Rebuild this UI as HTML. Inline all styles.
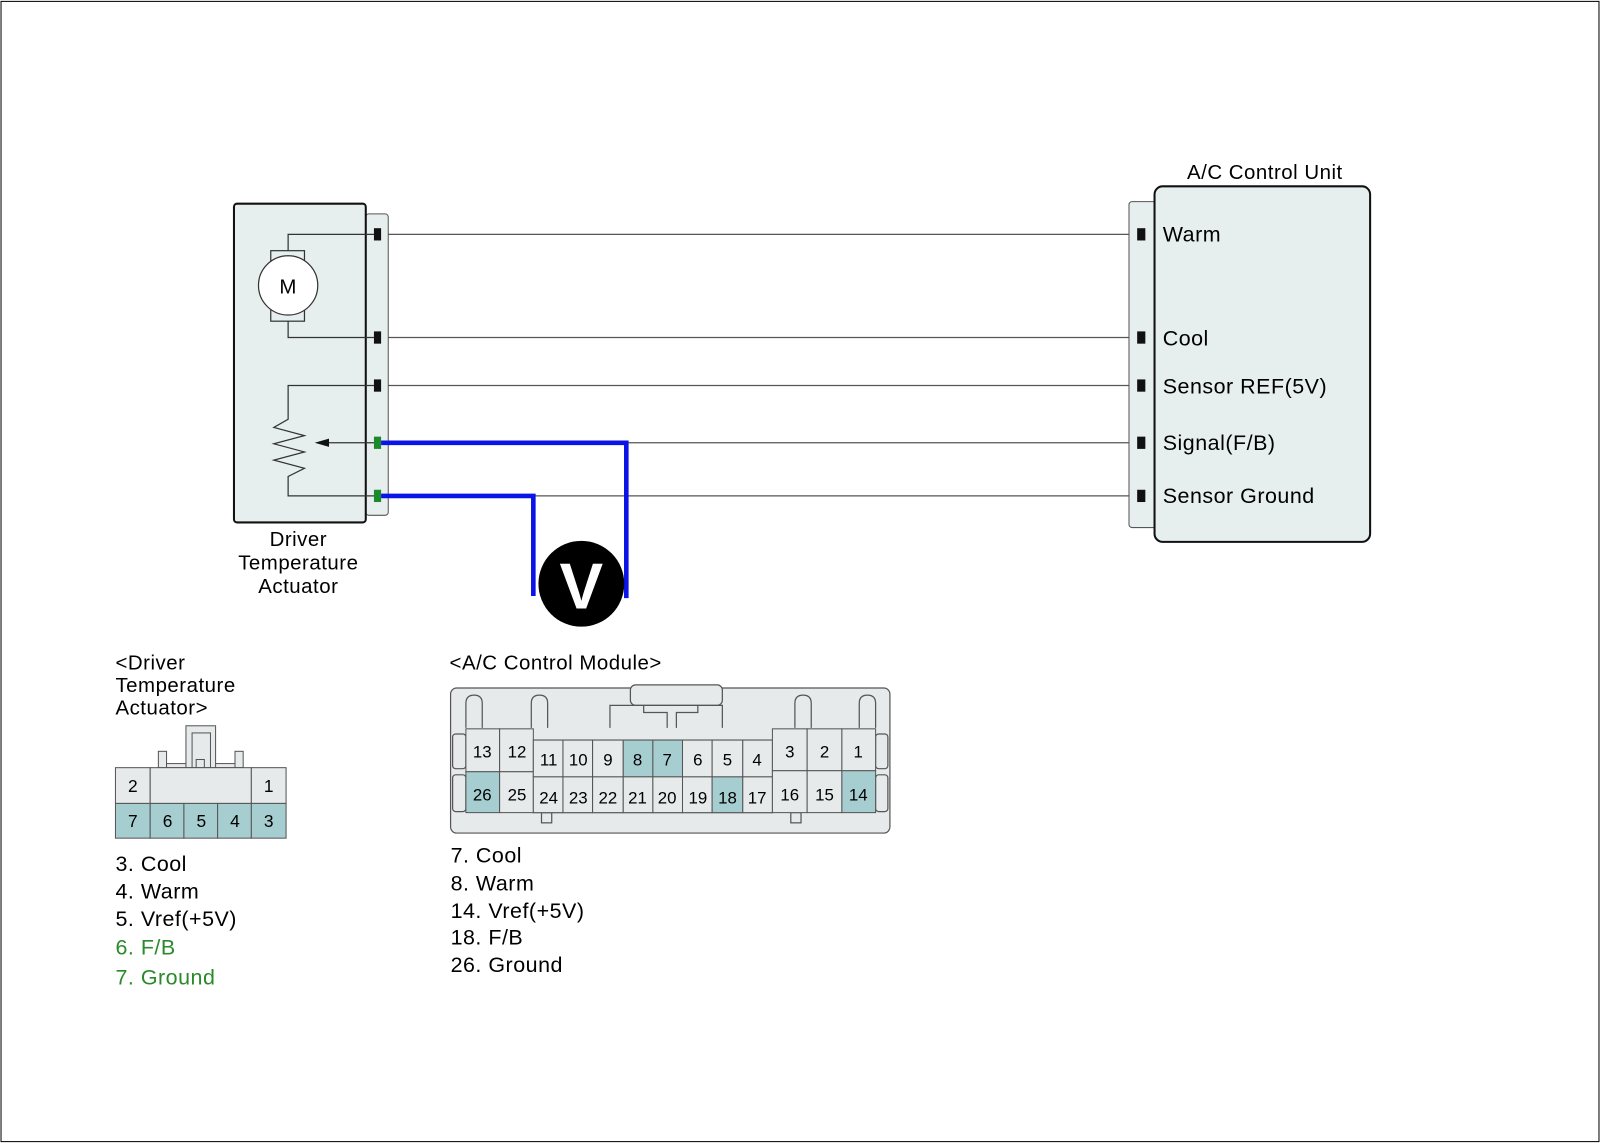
<!DOCTYPE html>
<html><head><style>html,body{margin:0;padding:0;background:#fff}svg{display:block}</style></head>
<body>
<svg width="1600" height="1143" viewBox="0 0 1566 1118" xmlns="http://www.w3.org/2000/svg" font-family="Liberation Sans, sans-serif" letter-spacing="0.5">
<rect x="1" y="1" width="1564" height="1116" fill="#fff" stroke="#000" stroke-width="1"/>
<g stroke="#555" stroke-width="1.2" fill="none">
<line x1="373" y1="229" x2="1113" y2="229"/>
<line x1="373" y1="330" x2="1113" y2="330"/>
<line x1="373" y1="377" x2="1113" y2="377"/>
<line x1="613" y1="433" x2="1113" y2="433"/>
<line x1="522" y1="485" x2="1113" y2="485"/>
</g>
<rect x="358" y="209" width="22" height="295" rx="3" fill="#e6eeee" stroke="#555" stroke-width="1"/>
<rect x="229" y="199" width="129" height="312" rx="3" fill="#e6eeee" stroke="#111" stroke-width="2"/>
<g stroke="#333" stroke-width="1.2" fill="none">
<polyline points="366,229 282,229 282,245"/>
<polyline points="366,330 282,330 282,314"/>
<rect x="265" y="245" width="33" height="69"/>
<polyline points="366,377 282,377 282,410 268,418 298,426 268,434 298,442 268,450 298,458 282,466 282,485 366,485"/>
<line x1="322" y1="433" x2="366" y2="433"/>
</g>
<circle cx="282" cy="279" r="29" fill="#fff" stroke="#333" stroke-width="1.2"/>
<text x="282" y="287" font-size="20" text-anchor="middle">M</text>
<polygon points="308,433 322,429 322,437" fill="#111"/>
<g fill="#111"><rect x="366" y="223" width="7" height="12"/><rect x="366" y="324" width="7" height="12"/><rect x="366" y="371" width="7" height="12"/></g>
<g fill="#1a8a2a"><rect x="366" y="427" width="7" height="12"/><rect x="366" y="479" width="7" height="12"/></g>
<text font-size="20" text-anchor="middle"><tspan x="292" y="534">Driver</tspan><tspan x="292" y="557">Temperature</tspan><tspan x="292" y="580">Actuator</tspan></text>
<g stroke="#0a14e6" stroke-width="4.5" fill="none">
<polyline points="373,433 613,433 613,585"/>
<polyline points="373,485 522,485 522,583"/>
</g>
<circle cx="569" cy="571" r="42" fill="#000"/>
<text x="569" y="595" font-size="64" font-weight="bold" fill="#fff" text-anchor="middle" letter-spacing="0">V</text>
<rect x="1105" y="197" width="28" height="319" rx="3" fill="#e6eeee" stroke="#555" stroke-width="1"/>
<rect x="1130" y="182" width="211" height="348" rx="8" fill="#e6eeee" stroke="#111" stroke-width="2"/>
<g fill="#111"><rect x="1113" y="223" width="8" height="12"/><rect x="1113" y="324" width="8" height="12"/><rect x="1113" y="371" width="8" height="12"/><rect x="1113" y="427" width="8" height="12"/><rect x="1113" y="479" width="8" height="12"/></g>
<text x="1238" y="175" font-size="20" text-anchor="middle">A/C Control Unit</text>
<g font-size="21"><text x="1138" y="236">Warm</text><text x="1138" y="338">Cool</text><text x="1138" y="385">Sensor REF(5V)</text><text x="1138" y="440">Signal(F/B)</text><text x="1138" y="492">Sensor Ground</text></g>
<g font-size="20"><text x="113" y="655">&lt;Driver</text><text x="113" y="677">Temperature</text><text x="113" y="699">Actuator&gt;</text></g>
<g stroke="#555" stroke-width="1" fill="#e6eaea">
<rect x="155" y="735" width="8" height="16"/><rect x="230" y="735" width="8" height="16"/>
<rect x="163" y="747" width="67" height="4"/>
<rect x="182" y="710" width="29" height="41"/><rect x="188" y="717" width="18" height="34"/><rect x="192" y="743" width="8" height="8"/>
<rect x="113" y="751" width="34" height="35"/><rect x="147" y="751" width="99" height="35"/><rect x="246" y="751" width="34" height="35"/>
</g>
<g stroke="#555" stroke-width="1" fill="#a6cdd0">
<rect x="113" y="786" width="34" height="34"/><rect x="147" y="786" width="33" height="34"/><rect x="180" y="786" width="33" height="34"/><rect x="213" y="786" width="33" height="34"/><rect x="246" y="786" width="34" height="34"/>
</g>
<g font-size="17" text-anchor="middle" letter-spacing="0"><text x="130" y="775">2</text><text x="263" y="775">1</text>
<text x="130" y="809">7</text><text x="164" y="809">6</text><text x="197" y="809">5</text><text x="230" y="809">4</text><text x="263" y="809">3</text></g>
<g font-size="21"><text x="113" y="852">3. Cool</text><text x="113" y="879">4. Warm</text><text x="113" y="906">5. Vref(+5V)</text><text x="113" y="934" fill="#2a8a2a">6. F/B</text><text x="113" y="963" fill="#2a8a2a">7. Ground</text></g>
<text x="440" y="655" font-size="20">&lt;A/C Control Module&gt;</text>
<g stroke="#555" stroke-width="1.2" fill="#e6eaea">
<rect x="441" y="673" width="430" height="142" rx="6"/>
<rect x="617" y="670" width="90" height="20" rx="5"/>
<path d="M597,712 V690 H707 V712"/>
<polyline points="630,690 630,697 653,697 653,712" fill="none"/><polyline points="683,690 683,697 662,697 662,712" fill="none"/>
<path d="M456,712 V688 q0,-8 8,-8 q8,0 8,8 V712" /><path d="M520,712 V688 q0,-8 8,-8 q8,0 8,8 V712"/>
<path d="M778,712 V688 q0,-8 8,-8 q8,0 8,8 V712"/><path d="M841,712 V688 q0,-8 8,-8 q8,0 8,8 V712"/>
<rect x="443" y="718" width="13" height="34" rx="3"/><rect x="443" y="758" width="13" height="36" rx="3"/>
<rect x="857" y="718" width="12" height="34" rx="3"/><rect x="857" y="758" width="12" height="36" rx="3"/>
<rect x="530" y="795" width="10" height="10"/><rect x="774" y="795" width="10" height="10"/>
<rect x="522" y="724" width="234" height="71" fill="#e6eaea"/>
</g>
<g stroke="#555" stroke-width="1" fill="#e6eaea">
<rect x="456" y="713" width="33" height="42"/><rect x="489" y="713" width="33" height="42"/>
<rect x="456" y="755" width="33" height="40" fill="#a6cdd0"/><rect x="489" y="755" width="33" height="40"/>
<rect x="522" y="724" width="29" height="36"/><rect x="551" y="724" width="29" height="36"/><rect x="580" y="724" width="30" height="36"/><rect x="610" y="724" width="29" height="36" fill="#a6cdd0"/><rect x="639" y="724" width="29" height="36" fill="#a6cdd0"/><rect x="668" y="724" width="29" height="36"/><rect x="697" y="724" width="30" height="36"/><rect x="727" y="724" width="29" height="36"/>
<rect x="522" y="760" width="29" height="35"/><rect x="551" y="760" width="29" height="35"/><rect x="580" y="760" width="30" height="35"/><rect x="610" y="760" width="29" height="35"/><rect x="639" y="760" width="29" height="35"/><rect x="668" y="760" width="29" height="35"/><rect x="697" y="760" width="30" height="35" fill="#a6cdd0"/><rect x="727" y="760" width="29" height="35"/>
<rect x="756" y="713" width="34" height="41"/><rect x="790" y="713" width="34" height="41"/><rect x="824" y="713" width="33" height="41"/>
<rect x="756" y="754" width="34" height="41"/><rect x="790" y="754" width="34" height="41"/><rect x="824" y="754" width="33" height="41" fill="#a6cdd0"/>
</g>
<g font-size="16.5" text-anchor="middle" letter-spacing="0">
<text x="472" y="741">13</text><text x="506" y="741">12</text>
<text x="472" y="783">26</text><text x="506" y="783">25</text>
<text x="537" y="749">11</text><text x="566" y="749">10</text><text x="595" y="749">9</text><text x="624" y="749">8</text><text x="653" y="749">7</text><text x="683" y="749">6</text><text x="712" y="749">5</text><text x="741" y="749">4</text>
<text x="537" y="786">24</text><text x="566" y="786">23</text><text x="595" y="786">22</text><text x="624" y="786">21</text><text x="653" y="786">20</text><text x="683" y="786">19</text><text x="712" y="786">18</text><text x="741" y="786">17</text>
<text x="773" y="741">3</text><text x="807" y="741">2</text><text x="840" y="741">1</text>
<text x="773" y="783">16</text><text x="807" y="783">15</text><text x="840" y="783">14</text>
</g>
<g font-size="21"><text x="441" y="844">7. Cool</text><text x="441" y="871">8. Warm</text><text x="441" y="898">14. Vref(+5V)</text><text x="441" y="924">18. F/B</text><text x="441" y="951">26. Ground</text></g>
</svg>
</body></html>
